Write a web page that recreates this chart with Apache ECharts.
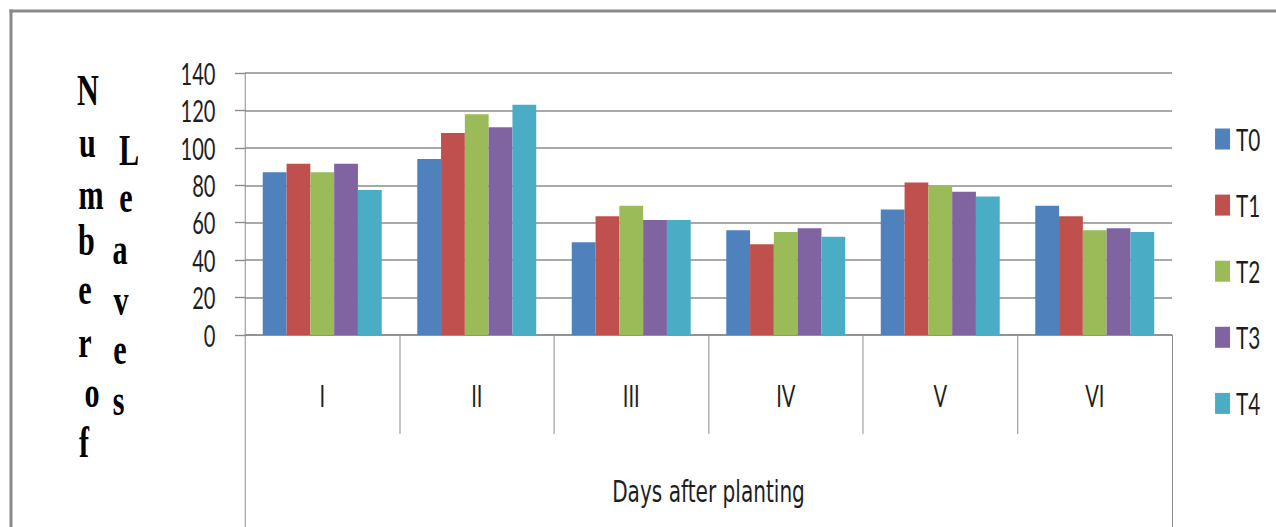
<!DOCTYPE html>
<html>
<head>
<meta charset="utf-8">
<title>Number of Leaves</title>
<script src="https://cdn.jsdelivr.net/npm/echarts@6/dist/echarts.min.js"></script>
<style>
  html, body { margin: 0; padding: 0; background: #fff; overflow: hidden; }
  /* The chart is laid out wide and squeezed horizontally so the type looks condensed */
  #wrap { width: 1276px; height: 527px; overflow: hidden; }
  #chart { width: 1905px; height: 527px; transform: scaleX(0.67); transform-origin: 0 0; }
</style>
</head>
<body>
<div id="wrap"><div id="chart"></div></div>
<script>
// ---- data ----
const categories = ['I', 'II', 'III', 'IV', 'V', 'VI'];
const seriesNames = ['T0', 'T1', 'T2', 'T3', 'T4'];
const t0 = [87, 94, 49.5, 56, 67, 69];
const t1 = [91.5, 108, 63.5, 48.5, 81.5, 63.5];
const t2 = [87, 118, 69, 55, 80, 56];
const t3 = [91.5, 111, 61.5, 57, 76.5, 57];
const t4 = [77.5, 123, 61.5, 52.5, 74, 55];
const yTicks = [0, 20, 40, 60, 80, 100, 120, 140];
const xTitle = 'Days after planting';
const yTitleWord1 = 'Number of';
const yTitleWord2 = 'Leaves';

// ---- layout ----
const SX = 0.67;                 // horizontal squeeze applied by CSS
const px = v => v / SX;          // screen x -> internal x
const colors = ['#4F81BD', '#C0504D', '#9BBB59', '#8064A2', '#4BACC6'];
const sans = 'Lato';
const lineGray = '#8c8c8c';
const textColor = '#1e1e1e';

// stacked letters of the vertical axis title (screen x centre, baseline)
const word1Pos = [[88, 103], [87.5, 155], [91, 207], [86.5, 253], [85, 302], [85, 355], [92, 405], [84, 455]];
const word2Pos = [[129, 163], [126, 210], [120, 262], [121, 313], [120, 362], [118.5, 413]];

function stackedLetters(word, pos) {
  const letters = word.replace(/\s+/g, '').split('');
  return letters.map((ch, i) => ({
    type: 'text',
    silent: true,
    style: {
      text: ch,
      x: px(pos[i][0]),
      y: pos[i][1] - 13.5,
      fill: '#000',
      fontFamily: '"Liberation Serif", serif',
      fontWeight: 'bold',
      fontSize: 45,
      align: 'center',
      verticalAlign: 'middle'
    }
  }));
}

const seriesData = [t0, t1, t2, t3, t4];

const chart = echarts.init(document.getElementById('chart'), null, { renderer: 'svg' });

const gridLeft = px(245);
const gridRight = px(1172);

chart.setOption({
  animation: false,
  backgroundColor: '#fff',
  color: colors,
  grid: {
    left: gridLeft,
    width: gridRight - gridLeft,
    top: 73,
    bottom: 192,
    containLabel: false,
    outerBoundsMode: 'none'
  },
  legend: {
    orient: 'vertical',
    left: px(1211.7),
    top: 118.5,
    icon: 'rect',
    itemWidth: px(15),
    itemHeight: 21,
    itemGap: 35.1,
    data: seriesNames,
    textStyle: {
      fontFamily: sans,
      fontSize: 31,
      lineHeight: 31,
      color: textColor,
      padding: [0, 0, 0, 4]
    }
  },
  xAxis: [
    {
      type: 'category',
      data: categories,
      position: 'bottom',
      axisLine: { show: true, lineStyle: { color: lineGray, width: 1.5 } },
      axisTick: { show: true, interval: 0, length: 99, lineStyle: { color: lineGray, width: 1.5 } },
      axisLabel: { fontFamily: sans, fontSize: 30, color: textColor, margin: 45, interval: 0 },
      splitLine: { show: false }
    },
    {
      type: 'category',
      data: [xTitle],
      position: 'bottom',
      offset: 99,
      axisLine: { show: false },
      axisTick: { show: true, interval: 0, length: 110, lineStyle: { color: lineGray, width: 1.5 } },
      axisLabel: { fontFamily: '"DejaVu Sans", sans-serif', fontSize: 30, color: textColor, margin: 42 },
      splitLine: { show: false }
    }
  ],
  yAxis: {
    type: 'value',
    min: yTicks[0],
    max: yTicks[yTicks.length - 1],
    interval: yTicks[1] - yTicks[0],
    axisLine: { show: true, lineStyle: { color: lineGray, width: 1.5 } },
    axisTick: { show: true, length: px(10), lineStyle: { color: lineGray, width: 1.4 } },
    axisLabel: { fontFamily: sans, fontSize: 30, color: textColor, margin: px(29.5) },
    splitLine: { show: true, lineStyle: { color: lineGray, width: 1.5 } }
  },
  series: seriesNames.map((name, i) => ({
    name,
    type: 'bar',
    xAxisIndex: 0,
    data: seriesData[i],
    barGap: '0%',
    barCategoryGap: '23%',
    itemStyle: { color: colors[i] }
  })),
  graphic: [
    // outer chart frame (top and left edges)
    { type: 'rect', silent: true, shape: { x: px(9.5), y: 9.5, width: px(1280), height: 3 }, style: { fill: '#898989' } },
    { type: 'rect', silent: true, shape: { x: px(9.5), y: 9.5, width: px(3), height: 530 }, style: { fill: '#898989' } },
    ...stackedLetters(yTitleWord1, word1Pos),
    ...stackedLetters(yTitleWord2, word2Pos)
  ]
});
</script>
</body>
</html>
